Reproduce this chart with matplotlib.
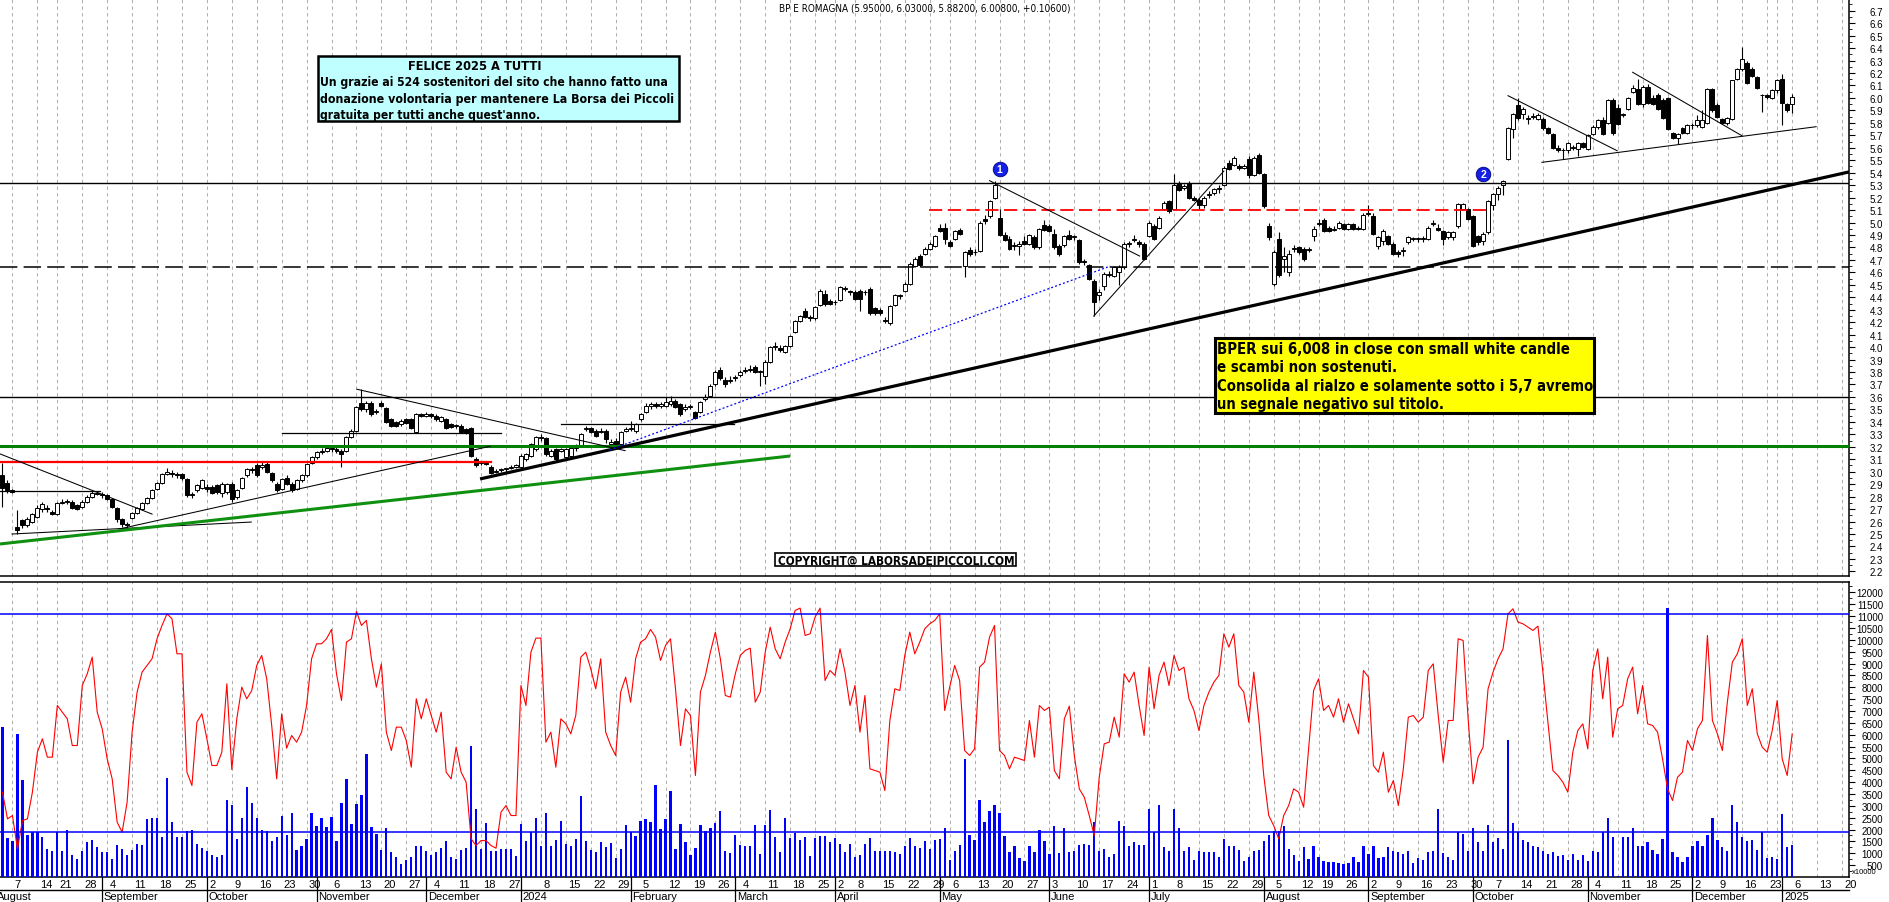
import matplotlib
matplotlib.use('Agg')
import matplotlib.pyplot as plt
from matplotlib.lines import Line2D
from matplotlib.patches import Rectangle
import numpy as np
import pandas as pd

W, H = 1890, 903

# Borsa Italiana closing days inside the period
holidays = ['2023-08-15', '2023-12-25', '2023-12-26', '2024-01-01', '2024-03-29',
            '2024-04-01', '2024-05-01', '2024-08-15', '2024-12-24', '2024-12-25',
            '2024-12-26', '2024-12-31', '2025-01-01']
sessions = pd.bdate_range('2023-08-03', '2025-01-24')
sessions = sessions[~sessions.isin(pd.to_datetime(holidays))]

opens = [
    2.97,2.91,2.85,2.56,2.61,2.57,2.60,2.64,2.70,2.71,2.68,2.66,2.75,2.76,2.76,2.73,2.72,2.76,2.80,2.83,
    2.82,2.81,2.78,2.71,2.62,2.58,2.63,2.67,2.70,2.75,2.79,2.86,2.91,2.98,2.99,2.98,2.98,2.94,2.82,2.85,2.87,
    2.88,2.88,2.89,2.83,2.84,2.90,2.80,2.87,2.97,3.02,3.05,3.04,3.06,2.99,2.90,2.86,2.95,2.90,2.86,2.93,2.97,3.07,
    3.12,3.16,3.17,3.19,3.18,3.17,3.17,3.28,3.33,3.55,3.50,3.55,3.48,3.55,3.51,3.42,3.40,3.38,3.42,3.42,3.32,3.46,
    3.45,3.46,3.45,3.41,3.42,3.38,3.37,3.37,3.34,3.35,3.10,3.07,3.07,3.04,3.00,3.01,3.02,3.03,3.04,
    3.04,3.10,3.13,3.18,3.28,3.27,3.13,3.18,3.17,3.12,3.13,3.19,3.21,3.34,3.35,3.33,3.32,3.33,3.22,3.25,3.22,3.33,
    3.34,3.33,3.42,3.48,3.53,3.54,3.53,3.53,3.54,3.57,3.54,3.50,3.52,3.48,3.48,3.58,3.61,3.70,3.82,3.74,3.73,
    3.75,3.78,3.81,3.82,3.84,3.80,3.77,3.88,4.00,3.99,3.96,4.01,4.12,4.21,4.29,4.24,4.23,4.34,4.43,4.37,
    4.36,4.38,4.47,4.45,4.44,4.45,4.44,4.47,4.31,4.30,4.22,4.19,4.34,4.41,4.45,4.51,4.65,4.73,4.75,4.79,4.81,
    4.96,4.96,4.84,4.87,4.94,4.65,4.78,4.76,4.77,5.03,5.05,5.20,5.04,4.90,4.87,4.81,4.81,4.85,4.83,4.88,4.80,4.98,
    4.97,4.91,4.81,4.82,4.90,4.88,4.86,4.69,4.66,4.53,4.42,4.49,4.58,4.57,4.60,4.64,4.83,4.86,4.84,4.83,
    4.89,4.97,4.96,5.11,5.17,5.11,5.32,5.28,5.32,5.20,5.18,5.14,5.22,5.24,5.27,5.30,5.48,5.46,5.45,5.44,5.51,5.38,5.54,
    5.39,4.97,4.51,4.87,4.71,4.60,4.79,4.80,4.79,4.78,4.89,4.99,5.02,4.96,4.94,4.96,4.99,4.95,4.99,4.96,4.95,
    5.07,5.05,4.81,4.85,4.89,4.83,4.76,4.77,4.84,4.87,4.87,4.87,4.87,4.99,4.96,4.93,4.88,4.88,4.97,5.11,5.11,
    5.05,4.89,4.85,4.92,5.14,5.23,5.30,5.51,5.75,5.94,5.87,5.83,5.85,5.83,5.83,5.76,5.71,5.60,5.58,5.58,5.60,5.59,5.64,
    5.59,5.71,5.77,5.82,5.80,5.98,5.92,5.86,5.91,6.05,6.07,5.95,6.09,6.00,6.02,5.98,6.00,5.72,5.68,5.76,5.72,
    5.78,5.78,5.77,5.80,6.07,5.94,5.83,5.80,5.83,6.15,6.23,6.28,6.23,6.17,6.02,6.02,6.00,6.06,
    6.15,5.95,5.95]
highs = [
    3.07,2.93,2.86,2.69,2.62,2.64,2.67,2.73,2.76,2.73,2.69,2.76,2.78,2.78,2.77,2.74,2.77,2.81,2.85,2.84,
    2.84,2.82,2.79,2.72,2.63,2.60,2.68,2.72,2.76,2.80,2.86,2.92,2.99,3.03,3.01,3.00,2.99,2.95,2.84,2.90,2.94,
    2.90,2.89,2.90,2.92,2.91,2.92,2.86,2.96,3.03,3.04,3.07,3.08,3.08,3.00,2.92,2.95,2.97,2.92,2.94,2.98,3.07,3.13,
    3.17,3.19,3.21,3.21,3.20,3.18,3.29,3.34,3.53,3.66,3.57,3.57,3.50,3.57,3.52,3.43,3.41,3.42,3.43,3.43,3.47,3.47,
    3.48,3.47,3.46,3.45,3.43,3.39,3.38,3.38,3.35,3.36,3.12,3.09,3.08,3.05,3.02,3.03,3.03,3.05,3.06,
    3.14,3.15,3.23,3.29,3.30,3.28,3.18,3.19,3.19,3.19,3.20,3.22,3.31,3.37,3.36,3.34,3.35,3.34,3.26,3.27,3.33,3.36,
    3.41,3.39,3.47,3.55,3.56,3.56,3.56,3.60,3.61,3.58,3.55,3.54,3.54,3.49,3.57,3.62,3.70,3.82,3.84,3.76,3.77,
    3.78,3.82,3.84,3.86,3.86,3.82,3.90,4.01,4.04,4.02,4.02,4.10,4.22,4.26,4.31,4.26,4.33,4.47,4.46,4.39,
    4.38,4.49,4.49,4.46,4.46,4.47,4.46,4.48,4.32,4.31,4.24,4.34,4.43,4.43,4.52,4.68,4.72,4.75,4.80,4.84,4.90,
    4.99,5.00,4.86,4.94,4.96,4.77,4.80,4.79,5.01,5.06,5.18,5.33,5.11,4.92,4.89,4.84,4.85,4.89,4.91,4.90,4.96,5.02,
    4.99,4.95,4.83,4.90,4.94,4.90,4.87,4.71,4.67,4.55,4.47,4.60,4.61,4.65,4.66,4.84,4.85,4.90,4.86,4.84,
    5.01,4.99,5.05,5.17,5.18,5.39,5.33,5.31,5.33,5.21,5.20,5.21,5.25,5.28,5.30,5.45,5.50,5.53,5.47,5.47,5.53,5.53,5.56,
    5.40,5.00,4.78,4.92,4.80,4.78,4.82,4.81,4.80,4.80,4.97,5.03,5.04,4.97,4.97,5.01,5.00,5.00,5.00,4.97,5.08,
    5.14,5.08,4.89,4.95,4.90,4.84,4.78,4.80,4.89,4.88,4.88,4.89,4.97,5.02,4.99,4.94,4.93,4.93,5.16,5.16,5.12,
    5.06,4.90,4.92,5.18,5.24,5.29,5.34,5.77,5.88,6.00,5.93,5.86,5.88,5.88,5.85,5.77,5.72,5.62,5.60,5.65,5.62,5.65,5.65,
    5.71,5.78,5.83,5.85,5.99,6.00,5.95,5.88,6.01,6.10,6.15,6.10,6.11,6.02,6.04,6.00,6.01,5.73,5.72,5.77,5.79,
    5.80,5.86,5.90,6.08,6.08,5.96,5.84,5.85,6.14,6.24,6.41,6.30,6.25,6.18,6.03,6.03,6.07,6.15,
    6.19,5.96,6.03]
lows = [
    2.72,2.83,2.83,2.50,2.55,2.56,2.59,2.63,2.68,2.68,2.65,2.65,2.74,2.74,2.70,2.69,2.71,2.75,2.79,2.81,
    2.79,2.77,2.71,2.60,2.56,2.54,2.62,2.66,2.69,2.74,2.78,2.85,2.90,2.97,2.96,2.95,2.93,2.80,2.79,2.84,2.86,
    2.84,2.82,2.82,2.80,2.82,2.76,2.78,2.86,2.96,2.99,2.96,3.02,2.99,2.92,2.84,2.85,2.89,2.84,2.85,2.92,2.96,3.06,
    3.10,3.14,3.16,3.16,3.15,3.04,3.16,3.27,3.32,3.49,3.48,3.45,3.46,3.52,3.39,3.36,3.36,3.37,3.38,3.34,3.31,3.44,
    3.44,3.43,3.41,3.40,3.34,3.35,3.35,3.31,3.30,3.12,3.04,3.05,3.05,2.98,2.99,3.00,3.00,3.02,3.03,
    3.03,3.09,3.12,3.17,3.25,3.13,3.12,3.09,3.16,3.11,3.12,3.17,3.20,3.33,3.31,3.28,3.31,3.23,3.20,3.20,3.21,3.32,
    3.33,3.31,3.41,3.47,3.50,3.51,3.51,3.52,3.53,3.51,3.45,3.49,3.50,3.42,3.47,3.57,3.60,3.69,3.74,3.68,3.71,
    3.73,3.76,3.79,3.80,3.79,3.69,3.70,3.87,3.98,3.96,3.95,4.00,4.11,4.20,4.23,4.21,4.22,4.33,4.33,4.34,
    4.34,4.37,4.45,4.42,4.38,4.29,4.42,4.26,4.26,4.26,4.19,4.18,4.33,4.39,4.44,4.50,4.64,4.64,4.74,4.78,4.80,
    4.92,4.83,4.80,4.86,4.90,4.56,4.73,4.74,4.76,4.99,5.04,5.19,4.89,4.85,4.78,4.78,4.74,4.82,4.82,4.79,4.79,4.93,
    4.92,4.79,4.73,4.80,4.86,4.86,4.67,4.66,4.54,4.25,4.38,4.46,4.56,4.56,4.50,4.63,4.80,4.84,4.80,4.70,
    4.88,4.86,4.95,5.10,5.08,5.10,5.25,5.26,5.19,5.17,5.10,5.12,5.20,5.22,5.24,5.29,5.42,5.45,5.42,5.43,5.36,5.37,5.39,
    5.12,4.86,4.49,4.56,4.60,4.57,4.76,4.75,4.69,4.76,4.85,4.97,4.92,4.92,4.93,4.95,4.94,4.94,4.94,4.94,4.94,
    5.05,4.90,4.79,4.82,4.82,4.74,4.72,4.73,4.83,4.85,4.84,4.84,4.86,4.97,4.93,4.82,4.87,4.86,4.96,5.10,5.02,
    4.80,4.82,4.82,4.91,5.10,5.18,5.22,5.50,5.68,5.82,5.83,5.79,5.83,5.82,5.74,5.71,5.59,5.57,5.51,5.56,5.58,5.53,5.60,
    5.58,5.70,5.75,5.70,5.79,5.70,5.78,5.85,5.90,6.04,5.94,5.93,5.95,5.94,5.90,5.83,5.74,5.67,5.63,5.71,5.71,
    5.75,5.77,5.76,5.79,5.89,5.84,5.79,5.78,5.82,6.14,6.22,6.11,6.17,6.07,5.89,5.99,5.99,6.04,
    5.78,5.89,5.882]
closes = [
    2.87,2.85,2.84,2.53,2.57,2.62,2.66,2.71,2.74,2.70,2.66,2.75,2.76,2.76,2.71,2.70,2.76,2.80,2.83,2.82,
    2.81,2.78,2.72,2.62,2.58,2.57,2.67,2.71,2.75,2.79,2.85,2.91,2.98,3.00,2.98,2.97,2.95,2.81,2.81,2.89,2.93,
    2.86,2.83,2.84,2.90,2.90,2.78,2.85,2.95,3.02,3.01,2.97,3.05,3.00,2.93,2.85,2.94,2.90,2.85,2.93,2.97,3.06,3.12,
    3.16,3.17,3.19,3.18,3.17,3.14,3.28,3.33,3.52,3.50,3.55,3.46,3.48,3.53,3.40,3.37,3.37,3.41,3.39,3.35,3.46,3.45,
    3.46,3.45,3.42,3.44,3.35,3.36,3.37,3.32,3.31,3.13,3.05,3.07,3.06,2.99,3.00,3.02,3.02,3.04,3.05,
    3.13,3.14,3.22,3.28,3.27,3.14,3.17,3.10,3.18,3.18,3.19,3.21,3.30,3.35,3.32,3.29,3.33,3.26,3.24,3.22,3.32,3.34,
    3.35,3.38,3.46,3.53,3.54,3.53,3.54,3.56,3.57,3.52,3.46,3.52,3.52,3.43,3.56,3.60,3.69,3.80,3.75,3.70,3.74,
    3.76,3.80,3.82,3.82,3.80,3.80,3.88,4.00,4.00,3.98,4.01,4.09,4.21,4.25,4.24,4.23,4.32,4.45,4.35,4.35,
    4.36,4.48,4.47,4.44,4.39,4.39,4.44,4.27,4.27,4.27,4.21,4.33,4.42,4.41,4.51,4.67,4.71,4.66,4.79,4.83,4.89,
    4.93,4.87,4.81,4.93,4.91,4.76,4.75,4.76,5.00,5.01,5.17,5.30,4.90,4.86,4.79,4.82,4.83,4.83,4.90,4.80,4.95,4.94,
    4.93,4.80,4.75,4.89,4.87,4.89,4.68,4.68,4.55,4.36,4.44,4.59,4.59,4.64,4.64,4.83,4.83,4.87,4.83,4.71,
    5.00,4.87,5.04,5.16,5.09,5.30,5.26,5.29,5.20,5.18,5.14,5.20,5.23,5.27,5.28,5.44,5.43,5.52,5.44,5.45,5.38,5.52,5.40,
    5.13,4.88,4.76,4.58,4.73,4.75,4.79,4.76,4.71,4.78,4.95,5.00,4.93,4.93,4.95,5.00,4.95,4.99,4.95,4.95,5.06,
    5.08,4.91,4.88,4.93,4.83,4.75,4.75,4.78,4.88,4.87,4.87,4.87,4.96,5.00,4.94,4.87,4.92,4.92,5.15,5.15,5.03,
    4.81,4.84,4.91,5.17,5.23,5.28,5.33,5.76,5.87,5.84,5.91,5.83,5.85,5.86,5.76,5.72,5.60,5.58,5.58,5.64,5.60,5.64,5.61,
    5.70,5.77,5.82,5.71,5.98,5.72,5.79,5.87,6.00,6.08,5.95,6.09,5.96,5.95,5.91,5.84,5.75,5.68,5.71,5.72,5.78,
    5.78,5.82,5.82,6.07,5.90,5.85,5.80,5.84,6.14,6.23,6.31,6.12,6.18,6.08,6.02,6.01,6.06,6.14,
    5.96,5.90,6.008]

volume = [
    6318,1636,1509,6037,4096,1776,1889,1889,1678,1186,1087,1889,1087,1987,933,764,1116,1495,1566,1256,
    1045,1045,764,1355,1186,933,1158,1383,1369,2452,2494,2494,1706,4180,2311,1706,1706,1931,1987,1397,1214,
    1116,947,834,933,3253,3042,1608,2480,3787,3126,2480,1987,1931,1523,1706,2564,1776,2705,1144,1326,1608,2705,
    2170,2480,2128,2522,1523,3126,4138,2240,3084,3464,5193,2100,1820,1158,2058,1073,834,553,736,834,1326,1298,
    1087,947,1045,1214,1509,834,764,1144,1228,5516,2873,1186,2268,1116,1087,1186,1186,1186,876,
    2240,1509,1889,2494,1298,2705,1298,1566,2381,1397,1298,1608,3436,1523,1144,1045,1467,1256,1425,792,1186,2198,
    1889,1748,2381,2452,2339,3900,2030,2452,3646,1186,2240,1495,947,1228,2212,1959,2072,2282,2775,1102,1017,
    1776,1355,1298,1298,2198,975,2198,2831,1678,1073,2494,1636,1861,1566,1678,876,1650,1720,1720,1467,
    1636,1397,1073,1397,862,933,1397,1650,1087,1087,1116,1116,1073,975,1298,1650,1298,1214,1509,1186,1580,
    1608,2058,722,1116,1369,4982,1791,1580,3253,2311,2775,3042,2705,1720,1073,1298,792,694,1298,1073,1987,1509,
    975,2142,1003,2058,1045,1116,1369,1397,1369,2311,1116,1186,834,975,2381,2142,1298,1467,1355,1355,
    2873,1889,3042,1256,1087,2873,2058,1116,1256,722,1116,1045,1045,1045,834,1608,1298,1298,1144,694,834,1087,1158,
    1509,1776,1931,1959,2170,1186,933,694,1256,764,1298,834,694,623,623,595,553,595,834,623,1298,
    975,1326,806,862,1256,1116,1045,975,1087,595,792,722,1045,1087,2873,1017,862,722,1917,1805,1087,
    2058,1495,1087,2198,1495,1636,1186,5783,2268,1889,1566,1467,1326,1256,1087,975,1045,905,933,722,975,722,933,
    694,1087,1045,1889,2480,1706,60,1678,1678,2058,1298,1298,1467,1158,975,1608,11337,1073,834,623,834,
    1298,1509,1298,1776,2480,1566,1256,1116,3042,2311,1678,1509,1566,1144,1889,806,834,764,
    2662,1284,1355]

oscillator = [
    3576,2452,2592,1186,2381,2452,3576,5263,5826,5052,5052,7232,6950,6669,5544,5544,8075,8567,9270,6950,
    6247,4982,4138,2311,1889,3154,6107,7794,8638,8919,9200,10044,10606,11098,10887,9411,9411,4420,3857,6529,6880,
    5826,4701,4701,5263,8146,4532,6669,8005,7513,7864,8919,9341,8356,6388,4138,6880,5432,5966,5685,6107,7232,9200,
    9833,9833,10044,10437,8567,7442,9903,10044,11197,10606,10817,9200,8005,8989,6107,5333,6318,6318,5755,4631,7513,6669,
    7513,6810,6107,6950,4420,4138,5474,4420,3998,1608,1326,1537,1537,1326,1214,2733,3014,2592,2592,
    8075,7232,9481,10072,10072,5685,6107,4631,6669,6458,6037,6810,9270,9481,8778,7935,9200,6107,5544,5123,7794,8427,
    7372,9200,9903,10044,10437,10114,9130,9762,10044,7935,5544,7091,6810,4279,7794,8497,9481,10325,9200,7653,7583,
    8567,9341,9552,9650,7372,7794,9481,10536,9622,9200,9903,10465,11239,11337,10184,10255,10958,11337,8286,8708,
    8497,9622,8638,7232,8075,6107,7653,4560,4490,4420,3646,6599,7935,7864,9341,10325,9411,9903,10465,10676,10817,
    11098,7021,8005,8919,8286,5333,5123,5404,8848,9059,10114,10606,5333,5123,4560,5052,4982,4912,6599,5052,7232,7021,
    7161,4490,4138,6669,7204,5123,3717,3365,2592,1748,4209,5615,5685,6740,5896,8567,8216,8638,7232,5966,
    8848,7091,8497,9059,8075,9341,8708,8848,7513,7021,6177,7232,7794,8216,8497,10255,9692,10255,8075,7794,6529,8638,6669,
    4279,2592,2170,1608,2592,3014,3717,3576,2943,5404,7864,8356,7021,7232,6740,7513,6529,7302,6669,6037,8708,
    8427,4701,4420,5263,3576,4068,3014,4560,6740,6810,6529,6740,8708,8989,6810,4841,6599,6599,10044,9973,6669,
    3928,5052,5474,7935,8638,9200,9622,11098,11309,10747,10676,10536,10395,10578,8638,6529,4490,4279,3998,3576,5263,6177,6458,
    5404,8708,9622,7513,9270,5896,7091,7232,8356,8848,6880,8075,6458,6388,6107,4982,3717,3225,4209,4420,5755,
    5333,6247,6599,10184,6599,6037,5333,7372,9059,9411,10044,7232,7935,6037,5474,5263,6177,7442,
    4982,4279,6037]

# drawn levels and trend lines (session index, price)
black_levels = [5.32, 3.60]
dashed_level = 4.64
green_level = 3.21
short_levels = [(2.845, -0.5, 19.5), (3.31, 56.0, 100.0), (3.383, 112.0, 146.7)]
red_level = (3.08, -0.5, 98.0)
red_dashed = (5.103, 185.9, 298.4)
thin_trends = [((-0.5, 3.143), (30.0, 2.66)), ((1.9, 2.50), (49.9, 2.596)),
               ((23.4, 2.54), (97.8, 3.204)), ((71.1, 3.662), (124.9, 3.169)),
               ((198.0, 5.336), (228.1, 4.731)), ((218.9, 4.249), (245.0, 5.413)),
               ((302.0, 6.018), (323.9, 5.576)), ((308.8, 5.483), (363.8, 5.769)),
               ((327.0, 6.206), (348.9, 5.697))]
main_trend = ((95.8, 2.942), (370.4, 5.406))
green_trend = ((-0.5, 2.42), (158.0, 3.126))
blue_dotted = ((121.7, 3.174), (222.2, 4.65))
signals = [(200.0, 5.43, '1'), (297.0, 5.39, '2')]
vol_levels = [11080, 1890]

title = 'BP E ROMAGNA (5.95000, 6.03000, 5.88200, 6.00800, +0.10600)'
note_cyan = ['Un grazie ai 524 sostenitori del sito che hanno fatto una',
             'donazione volontaria per mantenere La Borsa dei Piccoli',
             "gratuita per tutti anche quest'anno."]
note_yellow = ['BPER sui 6,008 in close con small white candle',
               'e scambi non sostenuti.',
               'Consolida al rialzo e solamente sotto i 5,7 avremo',
               'un segnale negativo sul titolo.']

plt.rcParams['font.family'] = ['Liberation Sans', 'DejaVu Sans']
plt.rcParams['lines.scale_dashes'] = False
NARROW = ['Liberation Sans Narrow', 'DejaVu Sans']

n = min(len(opens), len(highs), len(lows), len(closes), len(volume), len(oscillator))
o = np.array(opens[:n]); h = np.array(highs[:n]); l = np.array(lows[:n]); c = np.array(closes[:n])
x = np.arange(n)
XMAX = 370.4

fig = plt.figure(figsize=(W / 100, H / 100), dpi=100)
fig.patch.set_facecolor('white')


def fx(px):
    return px / W


def fy(py):
    return 1 - py / H


ax = fig.add_axes([0, fy(577), fx(1849), 577 / H])
axv = fig.add_axes([0, fy(878), fx(1849), (878 - 583) / H])

for a in (ax, axv):
    a.set_xlim(-0.5, XMAX)
    a.tick_params(axis='x', bottom=False, labelbottom=False)
    a.yaxis.tick_right()
    a.spines['left'].set_visible(False)
    for s in ('right', 'bottom', 'top'):
        a.spines[s].set_linewidth(1.1)
ax.spines['top'].set_visible(False)
ax.set_ylim(2.163, 6.794)
axv.set_ylim(0, 12438)

# weekly grid and calendar rows
week_starts = [k for k in range(1, len(sessions))
               if sessions[k].isocalendar()[1] != sessions[k - 1].isocalendar()[1] and k <= XMAX]
year_starts = [k for k in range(1, len(sessions)) if sessions[k].year != sessions[k - 1].year]
month_starts = [k for k in range(1, len(sessions))
                if sessions[k].month != sessions[k - 1].month and k <= XMAX]

for k in week_starts:
    for a in (ax, axv):
        a.axvline(k, color='#B0B0B0', lw=0.75, dashes=(2.4, 2.4), zorder=1)

tr = axv.get_xaxis_transform()


def ay(py):
    return (878 - py) / (878 - 583)


for j, k in enumerate(week_starts):
    nxt = week_starts[j + 1] if j + 1 < len(week_starts) else k + 5
    if any(k <= y < nxt for y in year_starts):
        continue
    axv.text(k + 0.45, ay(885), str(sessions[k].day), transform=tr, fontsize=8,
             ha='left', va='center', clip_on=False)

# the first month starts two sessions before the first candle, so its name runs off the left edge
axv.text(-1.2, ay(897.5), 'August', transform=tr, fontsize=8, ha='left', va='center', clip_on=False)
for k in month_starts:
    lab = str(sessions[k].year) if sessions[k].month == 1 else sessions[k].strftime('%B')
    axv.text(k + 0.35, ay(897.5), lab, transform=tr, fontsize=8, ha='left', va='center', clip_on=False)
    axv.add_line(Line2D([k, k], [0, ay(903)], transform=tr, color='black', lw=0.9, clip_on=False))
fig.add_artist(Line2D([0, fx(1849)], [fy(891), fy(891)], color='black', lw=1.0))

# candles
up = c >= o
lo = np.minimum(o, c)
hh = np.maximum(np.abs(c - o), 0.006)
ax.vlines(x, l, h, color='black', lw=0.8, zorder=3)
ax.bar(x[up], hh[up], bottom=lo[up], width=0.8, facecolor='white', edgecolor='black', lw=0.7, zorder=4)
ax.bar(x[~up], hh[~up], bottom=lo[~up], width=0.8, facecolor='black', edgecolor='black', lw=0.7, zorder=4)

# levels and trend lines
for lv in black_levels:
    ax.axhline(lv, color='black', lw=1.0, zorder=5)
ax.axhline(dashed_level, color='black', lw=1.1, dashes=(12.5, 4.5), zorder=5)
ax.axhline(green_level, color='#008000', lw=2.2, zorder=5)
for lv, a0, a1 in short_levels:
    ax.plot([a0, a1], [lv, lv], color='black', lw=0.9, zorder=5)
ax.plot([red_level[1], red_level[2]], [red_level[0]] * 2, color='#FF0000', lw=1.6, zorder=5)
ax.plot([red_dashed[1], red_dashed[2]], [red_dashed[0]] * 2, color='#FF0000', lw=1.3,
        dashes=(9.5, 4.0), zorder=5)
for p0, p1 in thin_trends:
    ax.plot([p0[0], p1[0]], [p0[1], p1[1]], color='black', lw=0.75, zorder=5)
ax.plot([main_trend[0][0], main_trend[1][0]], [main_trend[0][1], main_trend[1][1]],
        color='black', lw=2.3, zorder=5, solid_capstyle='butt')
ax.plot([green_trend[0][0], green_trend[1][0]], [green_trend[0][1], green_trend[1][1]],
        color='#109010', lw=2.2, zorder=5, solid_capstyle='butt')
ax.plot([blue_dotted[0][0], blue_dotted[1][0]], [blue_dotted[0][1], blue_dotted[1][1]],
        color='#0000FF', lw=0.9, dashes=(1.4, 1.6), zorder=5)
for sx, sp, lab in signals:
    ax.plot(sx, sp, marker='o', ms=10.5, color='#1420E6', mec='#00007A', mew=0.6, zorder=7)
    ax.text(sx, sp - 0.004, lab, color='white', fontsize=7.5, fontweight='bold',
            ha='center', va='center', zorder=8)

# price axis
pt = np.round(np.arange(2.2, 6.701, 0.1), 1)
ax.set_yticks(pt)
ax.set_yticklabels([f'{v:.1f}' for v in pt])
ax.set_yticks(np.round(np.arange(2.25, 6.8, 0.1), 2), minor=True)
ax.tick_params(axis='y', which='major', length=4, width=0.8, pad=20.5, labelsize=7)
ax.tick_params(axis='y', which='minor', length=2, width=0.6)
plt.setp(ax.get_yticklabels(), ha='right')

# volume panel
axv.bar(x, volume[:n], width=0.45, color='#0000FF', zorder=3)
axv.plot(x, oscillator[:n], color='#FF0000', lw=0.8, zorder=4)
for lv in vol_levels:
    axv.axhline(lv, color='#0000FF', lw=1.1, zorder=5)
vt = np.arange(500, 12001, 500)
axv.set_yticks(vt)
axv.set_yticklabels([str(v) for v in vt])
axv.set_yticks(np.arange(250, 12400, 500), minor=True)
axv.tick_params(axis='y', which='major', length=4, width=0.8, pad=20.5, labelsize=7)
axv.tick_params(axis='y', which='minor', length=2, width=0.6)
plt.setp(axv.get_yticklabels(), ha='right')
fig.text(fx(1852), fy(873), 'x10000', fontsize=5.5, ha='left', va='center')

# texts fitted to the measured widths
renderer = fig.canvas.get_renderer()


def fit_text(x0, base, s, width, **kw):
    t = fig.text(fx(x0), fy(base), s, ha='left', va='baseline', zorder=20, **kw)
    bb = t.get_window_extent(renderer=renderer)
    t.set_fontsize(t.get_fontsize() * width / bb.width)
    return t


def box(x0, y0, x1, y1, face, lw):
    fig.add_artist(Rectangle((fx(x0), fy(y1)), fx(x1 - x0), (y1 - y0) / H,
                             facecolor=face, edgecolor='black', lw=lw, zorder=15))


fit_text(778.6, 11.7, title, 292, fontsize=7, family=NARROW, fontstretch='condensed')

box(318, 57, 679, 122, '#C0FFFF', 1.8)
fit_text(408.5, 70.5, 'FELICE 2025 A TUTTI', 134, fontsize=10, family=NARROW,
         fontstretch='condensed', fontweight='bold')
for s, base, wd in zip(note_cyan, [86.0, 103.0, 119.3], [345.5, 353.5, 219.0]):
    fit_text(320, base, s, wd, fontsize=10, family=NARROW, fontstretch='condensed', fontweight='bold')

box(1215, 339, 1594, 414, '#FFFF00', 2.2)
for s, base, wd in zip(note_yellow, [354.0, 372.5, 391.0, 409.5], [353, 180, 375, 225]):
    fit_text(1217.5, base, s, wd, fontsize=12, family=NARROW, fontstretch='condensed',
             fontweight='bold')

box(775, 554, 1016, 567, 'white', 1.2)
fit_text(777.7, 565.0, 'COPYRIGHT@ LABORSADEIPICCOLI.COM', 236, fontsize=8, family=NARROW,
         fontstretch='condensed', fontweight='bold')

fig.savefig('out.png', dpi=100)
